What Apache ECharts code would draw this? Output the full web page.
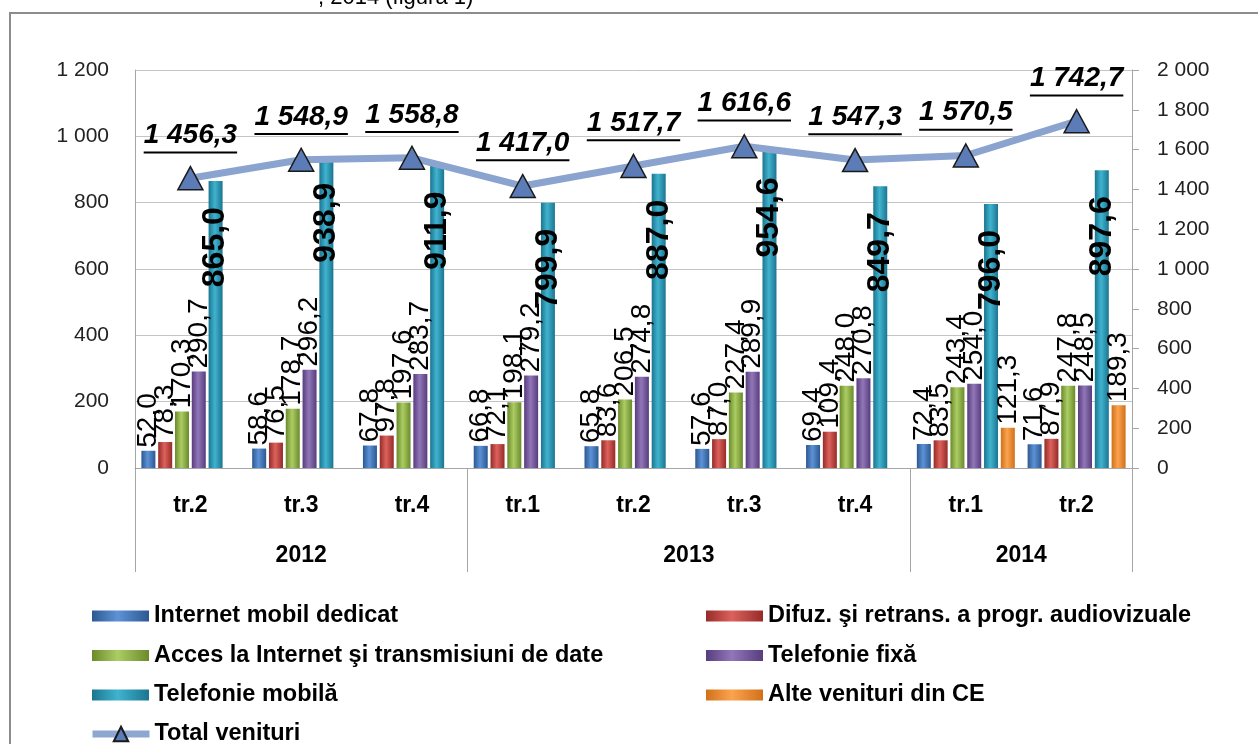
<!DOCTYPE html>
<html>
<head>
<meta charset="utf-8">
<script src="https://cdn.jsdelivr.net/npm/echarts@6/dist/echarts.min.js"></script>
<style>
html,body{margin:0;padding:0;background:#fff;}
#chart{width:1258px;height:744px;}
</style>
</head>
<body>
<div id="chart"></div>
<script>
// ---- data ----
const quarters = ['tr.2','tr.3','tr.4','tr.1','tr.2','tr.3','tr.4','tr.1','tr.2'];
const years = ['2012','2013','2014'];
const yearSpans = [3, 4, 2];
const internetMobil = [52.0, 58.6, 67.8, 66.8, 65.8, 57.6, 69.4, 72.4, 71.6];
const difuz = [78.3, 76.5, 97.8, 72.1, 83.6, 87.0, 109.4, 83.5, 87.9];
const accesInternet = [170.3, 178.7, 197.6, 198.1, 206.5, 227.4, 248.0, 243.4, 247.8];
const telefonieFixa = [290.7, 296.2, 283.7, 279.2, 274.8, 289.9, 270.8, 254.0, 248.5];
const telefonieMobila = [865.0, 938.9, 911.9, 799.9, 887.0, 954.6, 849.7, 796.0, 897.6];
const alteVenituri = [null, null, null, null, null, null, null, 121.3, 189.3];
const totalVenituri = [1456.3, 1548.9, 1558.8, 1417.0, 1517.7, 1616.6, 1547.3, 1570.5, 1742.7];
const leftTicks = {min: 0, max: 1200, interval: 200};
const rightTicks = {min: 0, max: 2000, interval: 200};

const names = {
  im: 'Internet mobil dedicat',
  df: 'Difuz. şi retrans. a progr. audiovizuale',
  ai: 'Acces la Internet şi transmisiuni de date',
  tf: 'Telefonie fixă',
  tm: 'Telefonie mobilă',
  av: 'Alte venituri din CE',
  tv: 'Total venituri'
};

// ---- helpers ----
const FONT = '"Liberation Sans", Arial, sans-serif';
function fmt(v, dec) {
  const s = dec ? Number(v).toFixed(1) : String(v);
  const parts = s.split('.');
  const i = parts[0].replace(/\B(?=(\d{3})+(?!\d))/g, ' ');
  return parts[1] !== undefined ? i + ',' + parts[1] : i;
}
function grad(dark, light) {
  return {
    type: 'linear', x: 0, y: 0, x2: 1, y2: 0,
    colorStops: [
      {offset: 0, color: dark},
      {offset: 0.45, color: light},
      {offset: 1, color: dark}
    ]
  };
}
const yearTicks = [0];
const yearMids = [];
yearSpans.forEach(function (n) {
  const start = yearTicks[yearTicks.length - 1];
  yearMids.push(start + n / 2);
  yearTicks.push(start + n);
});

const normalLabel = {
  show: true, position: 'top', rotate: 90, align: 'left', verticalAlign: 'middle',
  distance: 3, fontSize: 28, color: '#000', fontFamily: FONT,
  formatter: function (p) { return p.value == null ? '' : fmt(p.value, true); }
};

function barSeries(name, data, dark, light, label) {
  return {
    name: name, type: 'bar', xAxisIndex: 0, yAxisIndex: 0,
    data: data, barWidth: 14, barGap: '20%',
    itemStyle: {color: grad(dark, light)},
    label: label || normalLabel,
    z: 2
  };
}

// underlined total labels: measure text to size the underline
const TOTAL_FONT_SIZE = 28;
const mctx = document.createElement('canvas').getContext('2d');
mctx.font = 'italic bold ' + TOTAL_FONT_SIZE + 'px "Liberation Sans"';
function totalLabelFormatter(p) { return '{v|' + fmt(p.value, true) + '}\n{u| }'; }
const totalData = totalVenituri.map(function (v) {
  const w = mctx.measureText(fmt(v, true)).width;
  return {
    value: v,
    label: {
      formatter: totalLabelFormatter,
      rich: {
        v: {fontSize: TOTAL_FONT_SIZE, fontWeight: 'bold', fontStyle: 'italic', color: '#000', fontFamily: FONT, lineHeight: 31, align: 'center'},
        u: {width: w, height: 2, lineHeight: 3, fontSize: 1, backgroundColor: '#000', align: 'center'}
      }
    }
  };
});

const chart = echarts.init(document.getElementById('chart'), null, {renderer: 'canvas'});

const legendText = {fontSize: 23.5, fontWeight: 'bold', color: '#000', fontFamily: FONT};

const option = {
  animation: false,
  backgroundColor: '#fff',
  graphic: [
    {type: 'rect', shape: {x: 10, y: 13, width: 1300, height: 800},
     style: {fill: 'none', stroke: '#8c8c8c', lineWidth: 2}, silent: true},
    {type: 'text', left: 318, top: -13,
     style: {text: ', 2014 (figura 1)', fontSize: 22, fill: '#000', fontFamily: FONT}}
  ],
  grid: {left: 135, right: 126, top: 70, bottom: 276, containLabel: false},
  legend: [
    {
      orient: 'vertical', left: 87, top: 599, itemGap: 15.5,
      itemWidth: 57, itemHeight: 11,
      textStyle: legendText,
      data: [
        {name: names.im, icon: 'rect'},
        {name: names.ai, icon: 'rect'},
        {name: names.tm, icon: 'rect'}
      ]
    },
    {
      orient: 'vertical', left: 701, top: 599, itemGap: 15.5,
      itemWidth: 57, itemHeight: 11,
      textStyle: legendText,
      data: [
        {name: names.df, icon: 'rect'},
        {name: names.tf, icon: 'rect'},
        {name: names.av, icon: 'rect'}
      ]
    },
    {
      orient: 'horizontal', left: 84, top: 717,
      itemWidth: 57, itemHeight: 18,
      textStyle: legendText,
      lineStyle: {width: 7, color: '#8ea7d1'},
      data: [{name: names.tv}]
    }
  ],
  xAxis: [
    {
      type: 'category', data: quarters, position: 'bottom',
      axisLine: {show: true, lineStyle: {color: '#a6a6a6', width: 1}},
      axisTick: {show: false},
      axisLabel: {margin: 26, fontSize: 23, fontWeight: 'bold', color: '#000', fontFamily: FONT}
    },
    {
      type: 'value', min: 0, max: quarters.length, position: 'bottom',
      axisLine: {show: false},
      splitLine: {show: false},
      axisTick: {show: true, customValues: yearTicks, length: 104, lineStyle: {color: '#a6a6a6', width: 1}},
      axisLabel: {
        show: true, customValues: yearMids, margin: 76,
        fontSize: 23, fontWeight: 'bold', color: '#000', fontFamily: FONT,
        formatter: function (v) {
          const i = yearMids.indexOf(v);
          return i >= 0 ? years[i] : '';
        }
      }
    }
  ],
  yAxis: [
    {
      type: 'value', position: 'left',
      min: leftTicks.min, max: leftTicks.max, interval: leftTicks.interval,
      axisLine: {show: true, lineStyle: {color: '#a6a6a6', width: 1}},
      axisTick: {show: false},
      splitLine: {show: true, lineStyle: {color: '#c4c4c4', width: 1}},
      axisLabel: {margin: 26, fontSize: 21, color: '#222', fontFamily: FONT,
        formatter: function (v) { return fmt(v, false); }}
    },
    {
      type: 'value', position: 'right',
      min: rightTicks.min, max: rightTicks.max, interval: rightTicks.interval,
      axisLine: {show: true, lineStyle: {color: '#a6a6a6', width: 1}},
      axisTick: {show: true, length: 7, lineStyle: {color: '#a6a6a6'}},
      splitLine: {show: false},
      axisLabel: {margin: 25, fontSize: 21, color: '#222', fontFamily: FONT,
        formatter: function (v) { return fmt(v, false); }}
    }
  ],
  series: [
    barSeries(names.im, internetMobil, '#2b5891', '#5d92d6'),
    barSeries(names.df, difuz, '#962a28', '#dc625c'),
    barSeries(names.ai, accesInternet, '#6b8a2b', '#abcd63'),
    barSeries(names.tf, telefonieFixa, '#583d7e', '#9176b8'),
    barSeries(names.tm, telefonieMobila, '#1b7590', '#40b3cf', {
      show: true, position: 'insideTop', rotate: 90, align: 'right', verticalAlign: 'middle',
      distance: 26, fontSize: 32, fontWeight: 'bold', color: '#000', fontFamily: FONT,
      formatter: function (p) { return fmt(p.value, true); }
    }),
    barSeries(names.av, alteVenituri, '#d2701a', '#fba34f'),
    {
      name: names.tv, type: 'line', xAxisIndex: 0, yAxisIndex: 1,
      data: totalData,
      lineStyle: {color: '#8aa3cf', width: 7},
      symbol: 'triangle', symbolSize: [25, 23],
      itemStyle: {color: '#5b7cb6', borderColor: '#1a1a1a', borderWidth: 1.5},
      z: 5,
      label: {
        show: true, position: 'top', distance: 12,
        formatter: totalLabelFormatter
      }
    }
  ]
};
chart.setOption(option);
</script>
</body>
</html>
